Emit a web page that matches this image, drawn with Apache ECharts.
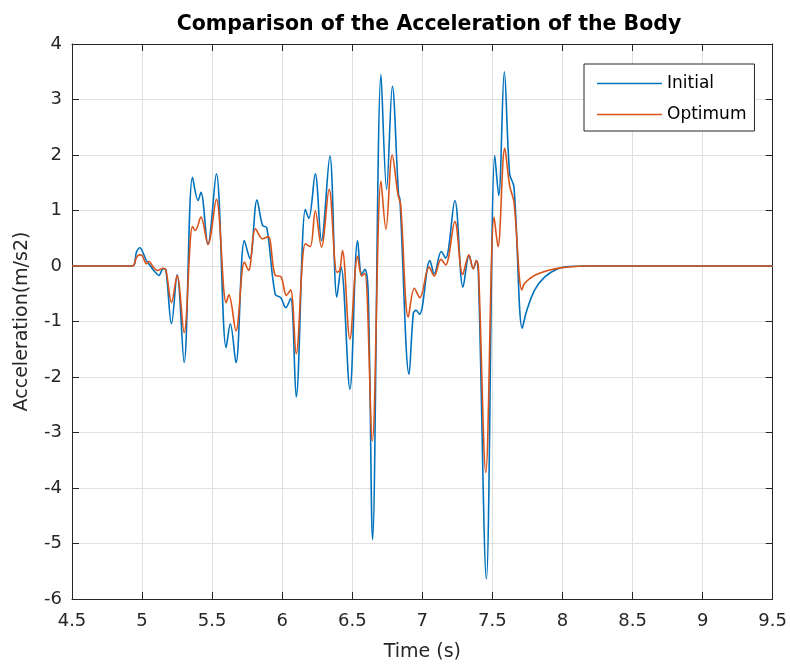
<!DOCTYPE html>
<html>
<head>
<meta charset="utf-8">
<script src="https://cdn.jsdelivr.net/npm/echarts@6/dist/echarts.min.js"></script>
<style>html,body{margin:0;padding:0;background:#fff;}#c{width:790px;height:667px;}</style>
</head>
<body>
<div id="c"></div>
<script>
const timeInitial = [4.5,4.93,4.96,4.985,5.01,5.03,5.06,5.09,5.12,5.15,5.17,5.21,5.25,5.30,5.36,5.40,5.42,5.47,5.53,5.60,5.63,5.67,5.73,5.77,5.82,5.86,5.89,5.95,5.99,6.025,6.06,6.10,6.165,6.19,6.236,6.28,6.34,6.39,6.42,6.483,6.538,6.567,6.59,6.614,6.645,6.705,6.745,6.786,6.83,6.84,6.905,6.936,6.955,6.98,7.054,7.085,7.135,7.166,7.232,7.29,7.334,7.363,7.386,7.40,7.457,7.517,7.545,7.585,7.623,7.654,7.713,7.742,7.8,7.872,7.967,8.05,8.2,9.5];
const accInitial = [0,0,0.25,0.33,0.22,0.1,0.0,-0.1,-0.17,-0.05,-0.08,-1.04,-0.16,-1.74,1.6,1.18,1.33,0.39,1.66,-1.47,-1.04,-1.74,0.46,0.13,1.19,0.73,0.69,-0.51,-0.57,-0.75,-0.58,-2.36,1.02,0.86,1.66,0.46,1.98,-0.56,-0.02,-2.22,0.46,-0.15,-0.06,-0.51,-4.93,3.45,1.38,3.24,1.29,1.2,-1.95,-0.85,-0.8,-0.87,0.1,-0.14,0.26,0.14,1.18,-0.38,0.19,-0.05,0.1,-0.14,-5.64,1.99,1.27,3.5,1.66,1.42,-1.12,-0.83,-0.44,-0.2,-0.05,-0.01,0,0];
const timeOptimum = [4.5,4.93,4.96,4.98,5.0,5.03,5.05,5.08,5.11,5.15,5.17,5.21,5.25,5.30,5.36,5.38,5.42,5.47,5.53,5.60,5.62,5.67,5.73,5.76,5.81,5.86,5.90,5.95,5.99,6.03,6.06,6.10,6.165,6.20,6.236,6.28,6.335,6.39,6.41,6.43,6.483,6.538,6.567,6.59,6.643,6.705,6.74,6.785,6.826,6.845,6.9,6.943,6.982,7.048,7.085,7.133,7.166,7.232,7.288,7.332,7.363,7.386,7.40,7.453,7.512,7.54,7.588,7.623,7.654,7.71,7.73,7.8,7.896,8.0,8.15,9.5];
const accOptimum = [0,0,0.15,0.2,0.19,0.04,0.08,-0.02,-0.08,-0.04,-0.07,-0.66,-0.17,-1.2,0.71,0.64,0.88,0.39,1.2,-0.66,-0.52,-1.17,0.07,-0.08,0.67,0.49,0.53,-0.17,-0.19,-0.53,-0.43,-1.58,0.4,0.35,0.99,0.34,1.38,-0.11,-0.08,0.28,-1.32,0.18,-0.18,-0.13,-3.15,1.53,0.66,2.0,1.29,1.11,-0.92,-0.4,-0.57,-0.02,-0.18,0.12,0.02,0.8,-0.15,0.2,-0.05,0.1,-0.02,-3.72,0.88,0.35,2.12,1.45,1.15,-0.43,-0.31,-0.17,-0.08,-0.03,0,0];
const seriesNames = ['Initial','Optimum'];
const seriesColors = ['#0072BD','#D95319'];
const xTicks = {min:4.5, max:9.5, interval:0.5};
const yTicks = {min:-6, max:4, interval:1};

const FONT = 'DejaVu Sans';
const AXC = '#262626';
const zip = (t, v) => t.map((x, i) => [x, v[i]]);

const chart = echarts.init(document.getElementById('c'), null, {renderer:'canvas'});
const axBase = (extra) => Object.assign({
  type:'value',
  axisLine:{show:true, onZero:false, lineStyle:{color:AXC, width:1}},
  axisTick:{show:true, inside:true, length:7, lineStyle:{color:AXC}},
  splitLine:{show:false},
  axisLabel:{show:false}
}, extra);

chart.setOption({
  animation:false,
  backgroundColor:'#fff',
  title:{
    text:'Comparison of the Acceleration of the Body',
    left:424, textAlign:'center', top:9,
    textStyle:{fontFamily:FONT, fontWeight:'bold', fontSize:20.5, color:'#000'}
  },
  grid:{left:72, right:13, top:44, bottom:68, containLabel:false},
  legend:{
    orient:'vertical', left:584, top:64,
    padding:[11,8,8,13], itemGap:14, itemWidth:65, itemHeight:14,
    icon:'path://M0,0 L65,0 L65,1.6 L0,1.6 Z',
    backgroundColor:'#fff', borderColor:AXC, borderWidth:1, borderRadius:0,
    textStyle:{fontFamily:FONT, fontSize:17, color:'#000'},
    data:seriesNames
  },
  xAxis:[
    axBase({min:xTicks.min, max:xTicks.max, interval:xTicks.interval, position:'bottom',
      splitLine:{show:true, lineStyle:{color:'#dfdfdf', width:1}},
      axisLabel:{show:true, color:AXC, fontFamily:FONT, fontSize:18, margin:13},
      name:'Time (s)', nameLocation:'middle', nameGap:44,
      nameTextStyle:{fontFamily:FONT, fontSize:19, color:AXC}}),
    axBase({min:xTicks.min, max:xTicks.max, interval:xTicks.interval, position:'top'})
  ],
  yAxis:[
    axBase({min:yTicks.min, max:yTicks.max, interval:yTicks.interval, position:'left',
      splitLine:{show:true, lineStyle:{color:'#dfdfdf', width:1}},
      axisLabel:{show:true, color:AXC, fontFamily:FONT, fontSize:18, margin:10},
      name:'Acceleration(m/s2)', nameLocation:'middle', nameGap:40, nameRotate:90,
      nameTextStyle:{fontFamily:FONT, fontSize:19, color:AXC}}),
    axBase({min:yTicks.min, max:yTicks.max, interval:yTicks.interval, position:'right'})
  ],
  series:[
    {name:seriesNames[0], type:'line', data:zip(timeInitial, accInitial), symbol:'none', showSymbol:false,
     smooth:0.35, color:seriesColors[0], lineStyle:{width:1.6, color:seriesColors[0]}, z:2},
    {name:seriesNames[1], type:'line', data:zip(timeOptimum, accOptimum), symbol:'none', showSymbol:false,
     smooth:0.35, color:seriesColors[1], lineStyle:{width:1.6, color:seriesColors[1]}, z:3}
  ]
});
</script>
</body>
</html>
